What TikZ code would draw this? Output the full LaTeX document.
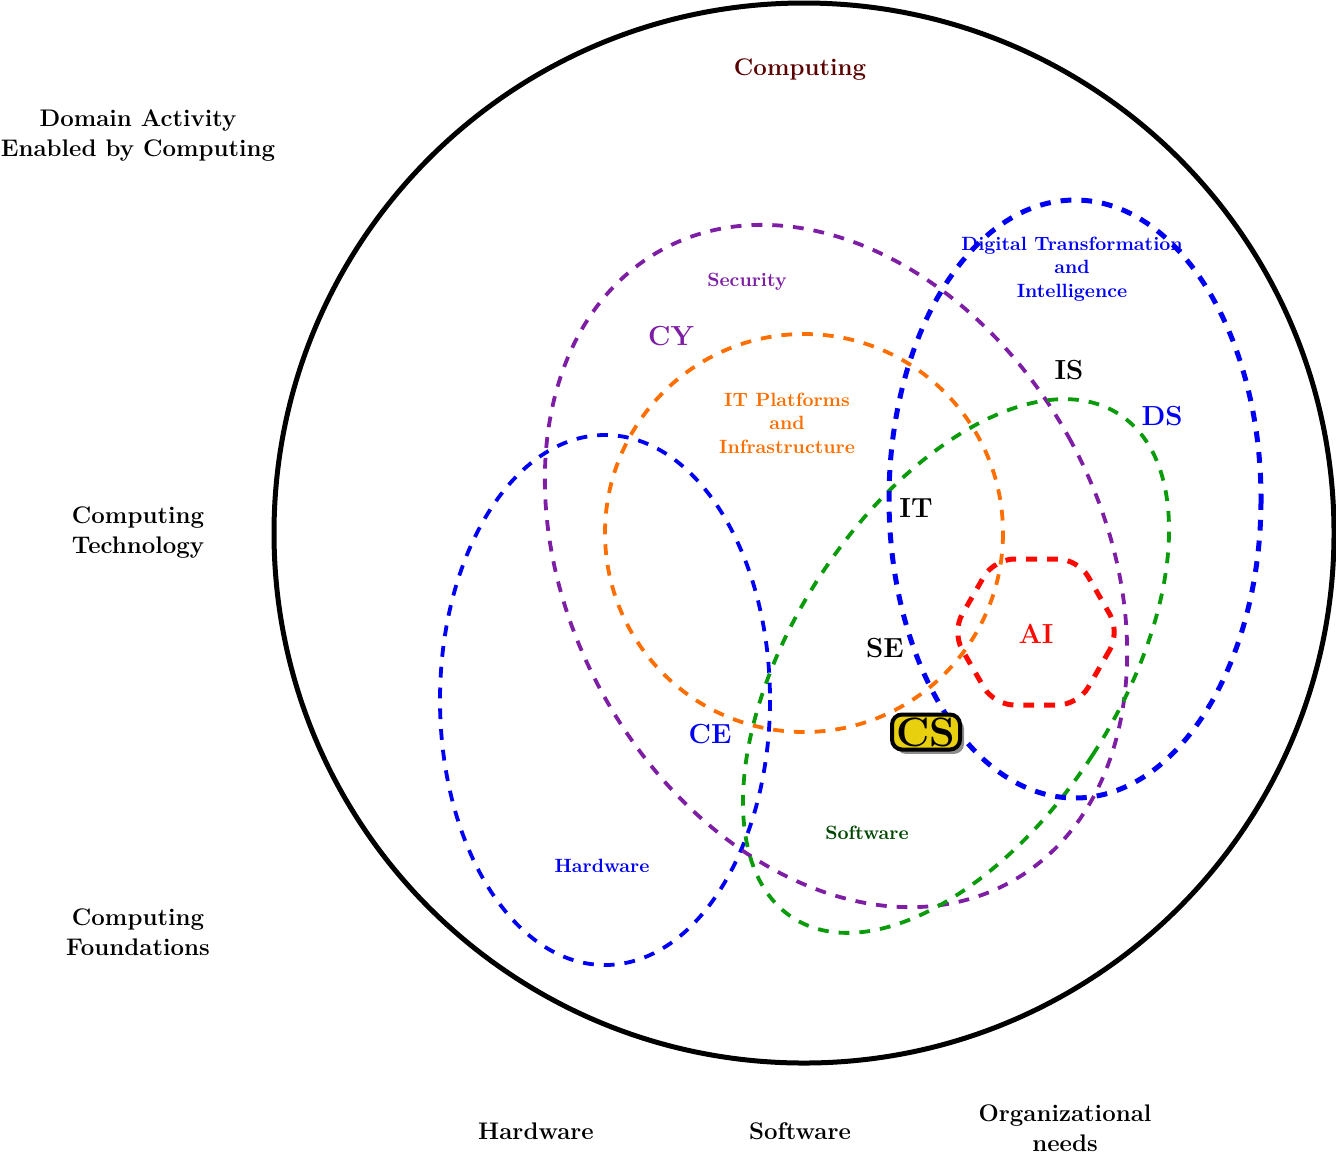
\documentclass[tikz,border=0pt]{standalone}
\usetikzlibrary{shadows}
\definecolor{cpurple}{RGB}{125,30,165}
\definecolor{corange}{RGB}{255,110,0}
\definecolor{cgreen}{RGB}{10,155,10}
\definecolor{cdkgreen}{RGB}{0,70,0}
\definecolor{cblue}{RGB}{0,0,245}
\definecolor{cred}{RGB}{250,10,0}
\definecolor{cdkred}{RGB}{90,0,0}
\definecolor{cyellow}{RGB}{232,208,15}
\begin{document}
\begin{tikzpicture}[x=0.5pt,y=-0.5pt,
  bigtxt/.style={font=\fontsize{12}{15}\selectfont\bfseries, align=center, inner sep=0pt},
  smalltxt/.style={font=\fontsize{9.6}{11.7}\selectfont\bfseries, align=center, inner sep=0pt},
  abbr/.style={font=\fontsize{13.8}{16}\selectfont\bfseries, inner sep=0pt},
  area/.style={line width=1.9pt, dash pattern=on 5.4pt off 5pt},
  areathick/.style={line width=2.5pt, dash pattern=on 5.4pt off 5pt},
  csbox/.style={draw=black, line width=2pt, fill=cyellow, rounded corners=5pt,
    minimum width=34pt, minimum height=17.5pt, inner sep=0.5pt,
    font=\fontsize{20.5}{22}\selectfont\bfseries,
    drop shadow={shadow xshift=2pt, shadow yshift=-2.2pt, fill=black!45, opacity=1}}
]
\useasboundingbox (0,0) rectangle (1336,1153);

% outer circle
\draw[line width=2.5pt] (804,533) circle [radius=530];

% CE hardware ellipse
\draw[area, draw=cblue] (605,700) ellipse [x radius=165, y radius=265];
% IT platforms circle
\draw[area, draw=corange] (804,533) circle [radius=199];
% security ellipse
\draw[area, draw=cpurple, shift={(836,566)}, rotate=29] (0,0) ellipse [x radius=266, y radius=361];
% software ellipse
\draw[area, draw=cgreen, shift={(956,666)}, rotate=-33] (0,0) ellipse [x radius=163, y radius=300];
% DS ellipse
\draw[areathick, draw=cblue] (1075,499) ellipse [x radius=186, y radius=299];
% AI hexagon
\draw[areathick, draw=cred, rounded corners=10pt]
  (1036+84,632) -- (1036+42,632+73) -- (1036-42,632+73) -- (1036-84,632)
  -- (1036-42,632-73) -- (1036+42,632-73) -- cycle;

% side labels
\node[bigtxt] (dom) at (138,136) {Domain Activity\\Enabled by Computing};
\node[bigtxt] (tech) at (138,533) {Computing\\Technology};
\node[bigtxt] (found) at (138,932) {Computing\\Foundations};
\node[bigtxt] (hw) at (536,1131) {Hardware};
\node[bigtxt] (sw) at (800,1131) {Software};
\node[bigtxt] (org) at (1065,1128) {Organizational\\needs};
\node[bigtxt, text=cdkred] (comp) at (800,70) {Computing};

% region labels
\node[smalltxt, text=cpurple] (sec) at (747,282) {Security};
\node[smalltxt, text=corange] (itp) at (787,423) {IT Platforms\\and\\Infrastructure};
\node[smalltxt, text=cblue] (dti) at (1072,269) {Digital Transformation\\and\\Intelligence};
\node[smalltxt, text=cdkgreen] (swl) at (867,833) {Software};
\node[smalltxt, text=cblue] (hwl) at (602,866) {Hardware};

% abbreviations
\node[abbr, text=cpurple] (cy) at (671,336) {CY};
\node[abbr] (is) at (1069,370) {IS};
\node[abbr, text=cblue] (ds) at (1162,416) {DS};
\node[abbr] (it) at (916,508) {IT};
\node[abbr] (se) at (885,648) {SE};
\node[abbr, text=cred] (ai) at (1036,634) {AI};
\node[abbr, text=cblue] (ce) at (710,734) {CE};
\node[csbox] (cs) at (926,732) {CS};
\end{tikzpicture}
\end{document}
